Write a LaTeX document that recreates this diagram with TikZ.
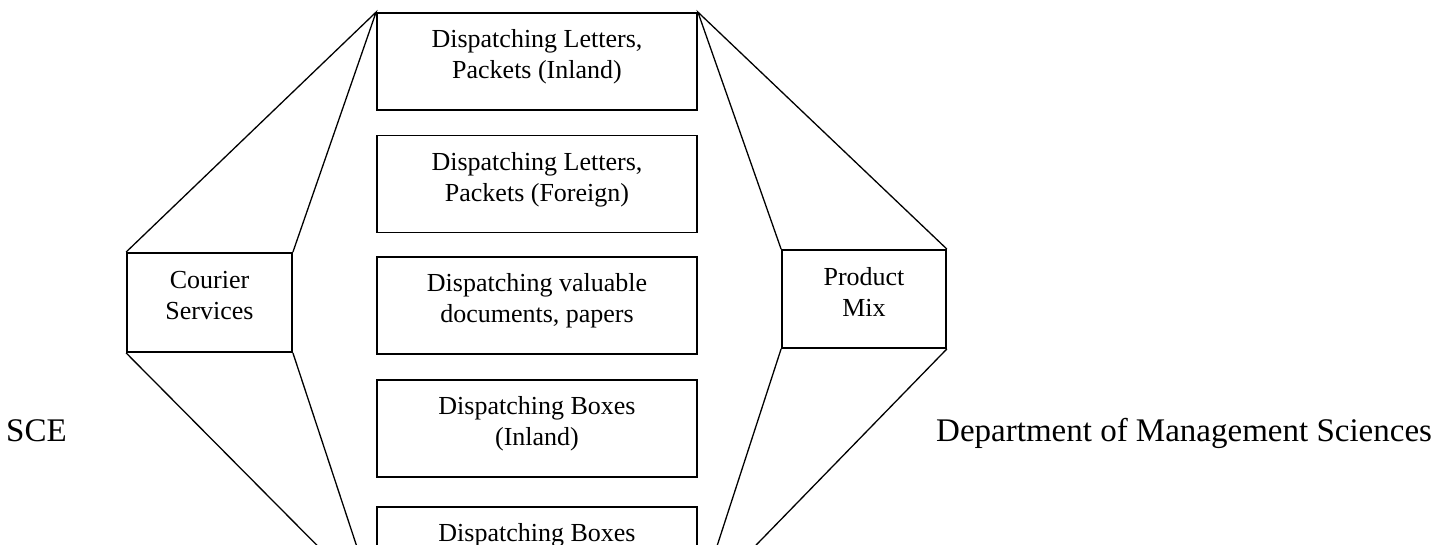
\documentclass[tikz,border=0pt]{standalone}
\usepackage{fontspec}
\setmainfont{Liberation Serif}

\begin{document}
\begin{tikzpicture}[x=1pt,y=1pt,
  item/.style={draw,line width=1.8pt,align=center,inner sep=0pt,
    font=\fontsize{26}{31}\selectfont,text depth=15pt,
    minimum width=320,minimum height=97},
  side/.style={item,minimum width=164,minimum height=98},
  spoke/.style={line width=1.3pt},
  head/.style={anchor=base west,inner sep=0pt,font=\fontsize{33}{40}\selectfont}]
  \useasboundingbox (0,0) rectangle (1434,544);
  \clip (0,0) rectangle (1434,544);
  \node[item] (d1) at (537,482.5) {Dispatching Letters,\\Packets (Inland)};
  \node[item] (d2) at (537,360) {Dispatching Letters,\\Packets (Foreign)};
  \node[item] (d3) at (537,238.5) {Dispatching valuable\\documents, papers};
  \node[item] (d4) at (537,115.5) {Dispatching Boxes\\(Inland)};
  \node[item] (d5) at (537,-11.5) {Dispatching Boxes\\(Foreign)};
  \node[side,minimum width=165,minimum height=99] (cs) at (209.5,241.5) {Courier\\Services};
  \node[side] (pm) at (864,245) {Product\\Mix};
  \draw[spoke] (cs.north west) -- (d1.north west) -- (cs.north east);
  \draw[spoke] (cs.south west) -- (d5.south west) -- (cs.south east);
  \draw[spoke] (pm.north west) -- (d1.north east) -- (pm.north east);
  \draw[spoke] (pm.south west) -- (d5.south east) -- (pm.south east);
  \node[head] (sce) at (6,103) {SCE};
  \node[head] (dept) at (936,103) {Department of Management Sciences};
\end{tikzpicture}
\end{document}
